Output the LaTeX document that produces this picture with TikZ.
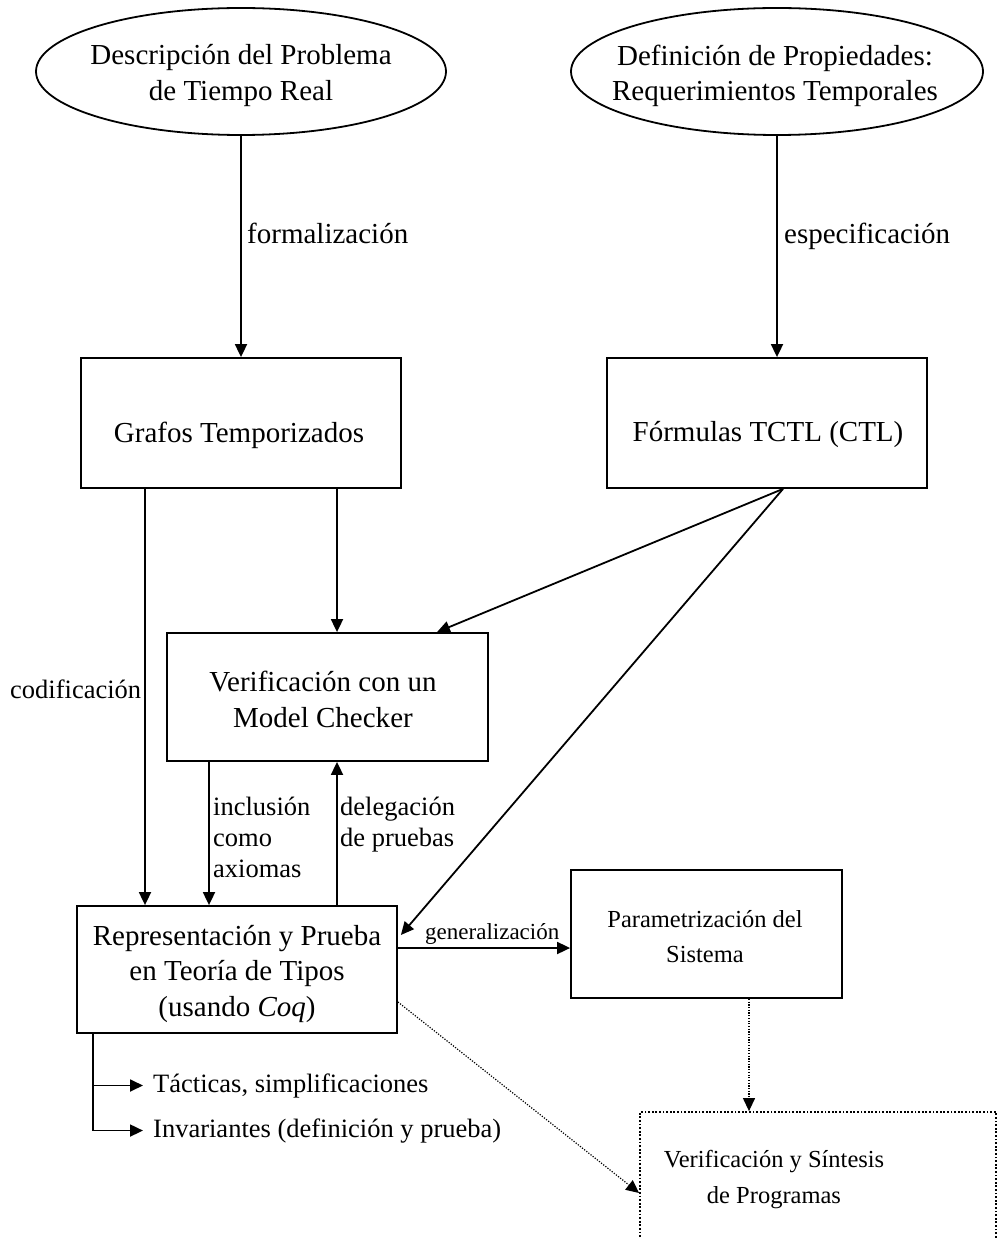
\documentclass[tikz,border=0pt]{standalone}
\usepackage{fontspec}
\setmainfont{Liberation Serif}
\usetikzlibrary{shapes.geometric,arrows.meta,calc}
\tikzset{
  box/.style={draw, line width=1.8pt, rectangle, inner sep=0pt},
  ell/.style={draw, line width=1.8pt, ellipse, inner sep=0pt},
  dotbox/.style={draw, line width=1.8pt, dash pattern=on 1.8pt off 1.8pt, rectangle, inner sep=0pt},
  big/.style={font=\fontsize{29}{35.5}\selectfont, align=center, inner sep=0pt},
  mid/.style={font=\fontsize{24.5}{35.5}\selectfont, align=center, inner sep=0pt},
  lblbig/.style={font=\fontsize{29}{34}\selectfont, inner sep=0pt, anchor=base west},
  lbl/.style={font=\fontsize{26.5}{31}\selectfont, align=left, inner sep=0pt},
  lblsmall/.style={font=\fontsize{23}{28}\selectfont, inner sep=0pt, anchor=base west},
  arr/.style={line width=1.8pt, -{Triangle[length=13pt,width=12pt]}},
  dotarr/.style={line width=1.2pt, dash pattern=on 1.2pt off 1.5pt, -{Triangle[length=13pt,width=12pt]}},
}
\begin{document}
\begin{tikzpicture}[x=1pt,y=-1pt]
\useasboundingbox (0,0) rectangle (999,1238);
% shapes
\node[ell, minimum width=410pt, minimum height=127pt] (E1) at (241,71.5) {};
\node[ell, minimum width=412pt, minimum height=127pt] (E2) at (777,71.5) {};
\node[box, minimum width=320pt, minimum height=130pt] (G) at (241,423) {};
\node[box, minimum width=320pt, minimum height=130pt] (F) at (767,423) {};
\node[box, minimum width=321pt, minimum height=128pt] (V) at (327.5,697) {};
\node[box, minimum width=320pt, minimum height=127pt] (R) at (237,969.5) {};
\node[box, minimum width=271pt, minimum height=128pt] (P) at (706.5,934) {};
\node[dotbox, minimum width=356pt, minimum height=162pt] (Fin) at (818,1193) {};
% texts
\node[big] (tE1) at (241,75.7) {Descripción del Problema\\de Tiempo Real};
\node[big] (tE2) at (775,75.7) {Definición de Propiedades:\\Requerimientos Temporales};
\node[big] (tG) at (239,435) {Grafos Temporizados};
\node[big] (tF) at (768,434.4) {Fórmulas TCTL (CTL)};
\node[big] (tV) at (323,699.6) {Verificación con un\\Model Checker};
\node[big] (tR) at (237,973.5) {Representación y Prueba\\en Teoría de Tipos\\(usando \textit{Coq})};
\node[mid] (tP) at (705,936.4) {Parametrización del\\Sistema};
\node[mid] (tFin) at (774,1179.6) {Verificación y Síntesis\\de Programas};
% labels
\node[lblbig] (lf) at (247,244) {formalización};
\node[lblbig] (le) at (784,244) {especificación};
\node[lbl, anchor=base west] (lc) at (10,698) {codificación};
\node[lbl, anchor=north west] (li) at (213,796.5) {inclusión\\como\\axiomas};
\node[lbl, anchor=north west] (ld) at (340,796.5) {delegación\\de pruebas};
\node[lblsmall] (lg) at (425,939) {generalización};
\node[lbl, anchor=base west] (T) at (153,1092) {Tácticas, simplificaciones};
\node[lbl, anchor=base west] (I) at (153,1137) {Invariantes (definición y prueba)};
% connectors
\draw[arr] (E1) -- (G);
\draw[arr] (E2.south) -- (E2.south |- F.north);
\draw[arr] ([xshift=96pt]G.south) -- ([xshift=96pt]G.south |- V.north);
\draw[arr] ([xshift=-96pt]G.south) -- ([xshift=-96pt]G.south |- R.north);
\draw[arr] ([xshift=16pt]F.south) -- ([xshift=109.5pt]V.north);
\draw[arr] ([xshift=16pt]F.south) -- ([xshift=3pt,yshift=34.5pt]R.east);
\draw[arr] ([xshift=-118.5pt]V.south) -- ([xshift=-118.5pt]V.south |- R.north);
\draw[arr] ([xshift=100pt]R.north) -- ([xshift=100pt]R.north |- V.south);
\draw[arr] ([yshift=21.5pt]R.east) -- ([yshift=21.5pt]R.east -| P.west);
\draw[dotarr] ([xshift=42.5pt]P.south) -- ([xshift=42.5pt]P.south |- Fin.north);
\draw[dotarr] ([yshift=-32.5pt]R.east) -- (Fin.west);
\draw[arr] ([xshift=17pt]R.south west) |- ([xshift=-10pt]I.west);
\draw[arr] ([xshift=17pt]R.south west |- T.west) -- ([xshift=-10pt]T.west);
\end{tikzpicture}
\end{document}
